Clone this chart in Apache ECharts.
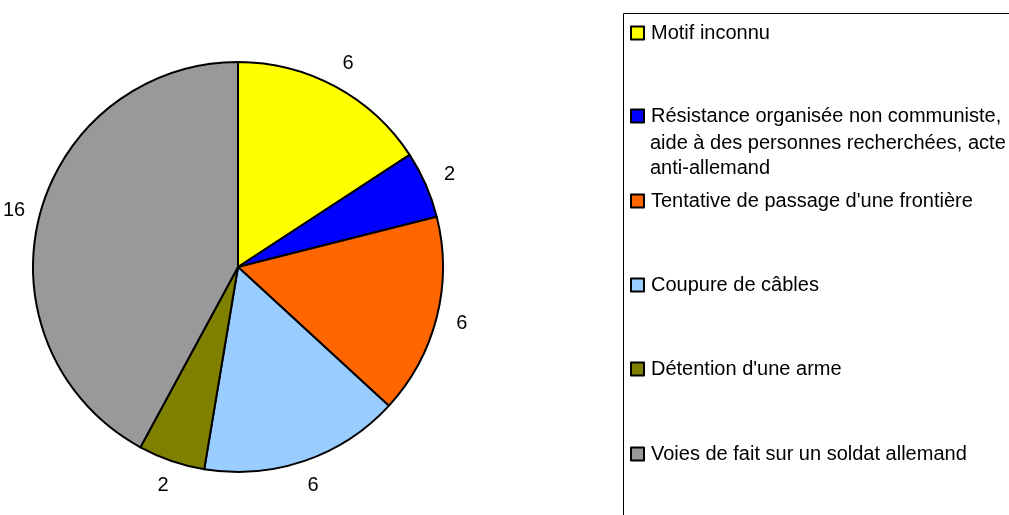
<!DOCTYPE html>
<html>
<head>
<meta charset="utf-8">
<script src="https://cdn.jsdelivr.net/npm/echarts@6/dist/echarts.min.js"></script>
<style>
  html, body { margin: 0; padding: 0; background: #fff; }
  #chart { width: 1009px; height: 515px; }
</style>
</head>
<body>
<div id="chart"></div>
<script>
// Données du graphique
var motifs = [
    'Motif inconnu',
    'Résistance organisée non communiste,',
    "Tentative de passage d'une frontière",
    'Coupure de câbles',
    "Détention d'une arme",
    'Voies de fait sur un soldat allemand'
];
var nombres = [6, 2, 6, 6, 2, 16];
var couleurs = ['#ffff00', '#0000ff', '#ff6600', '#99ccff', '#808000', '#999999'];
// suite du libellé n°2 (sur plusieurs lignes dans la légende)
var suiteResistance = ['aide à des personnes recherchées, acte', 'anti-allemand'];

var chart = echarts.init(document.getElementById('chart'));
var police = '"Liberation Sans", Arial, sans-serif';

// une légende par motif pour placer chaque ligne comme dans l'original
var legendeY = [32, 115, 200, 284, 368, 453];
var legendes = motifs.map(function (nom, i) {
    return {
        data: [nom],
        orient: 'vertical',
        left: 630,
        top: legendeY[i] - 9,
        padding: 0,
        itemWidth: 13,
        itemHeight: 13,
        itemGap: 0,
        selectedMode: false,
        icon: 'rect',
        itemStyle: { borderColor: '#000', borderWidth: 2 },
        textStyle: { fontFamily: police, fontSize: 20, color: '#000', padding: [0, 0, 0, 2] }
    };
});

var donnees = motifs.map(function (nom, i) {
    return { value: nombres[i], name: nom, itemStyle: { color: couleurs[i] } };
});

var option = {
    animation: false,
    legend: legendes,
    graphic: [
        {
            type: 'rect',
            shape: { x: 623.5, y: 13.5, width: 500, height: 600 },
            style: { fill: 'none', stroke: '#000', lineWidth: 1 },
            z: 0
        }
    ].concat(suiteResistance.map(function (ligne, i) {
        return {
            type: 'text',
            x: 650,
            y: 143 + i * 25,
            style: {
                text: ligne,
                font: '20px ' + police,
                fill: '#000',
                verticalAlign: 'middle'
            }
        };
    })),
    series: [{
        name: 'Motifs',
        type: 'pie',
        center: [238, 267],
        radius: 205,
        startAngle: 90,
        data: donnees,
        itemStyle: { borderColor: '#000', borderWidth: 2 },
        label: { show: false },
        labelLine: { show: false },
        emphasis: { disabled: true }
    }, {
        // anneau invisible qui porte les valeurs autour du camembert
        name: 'Valeurs',
        type: 'pie',
        center: [238, 267],
        radius: [205, 251],
        startAngle: 90,
        silent: true,
        data: motifs.map(function (nom, i) {
            return { value: nombres[i], name: nom };
        }),
        itemStyle: { color: 'rgba(0,0,0,0)', borderWidth: 0 },
        label: {
            show: true,
            position: 'inside',
            formatter: '{c}',
            fontFamily: police,
            fontSize: 20,
            color: '#000'
        },
        labelLine: { show: false },
        emphasis: { disabled: true }
    }]
};

chart.setOption(option);
</script>
</body>
</html>
